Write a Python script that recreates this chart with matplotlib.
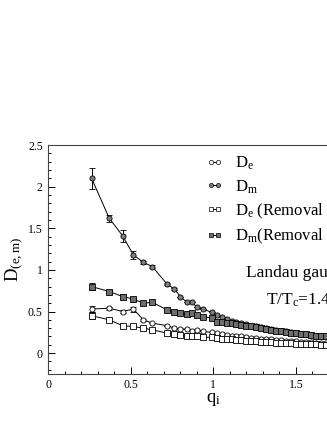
import matplotlib
matplotlib.use("Agg")
import matplotlib.pyplot as plt
from matplotlib.ticker import MultipleLocator
from matplotlib.lines import Line2D

plt.rcParams['font.family'] = ['Liberation Serif', 'DejaVu Serif']
plt.rcParams['mathtext.fontset'] = 'custom'
plt.rcParams['mathtext.rm'] = 'Liberation Serif'
plt.rcParams['mathtext.it'] = 'Liberation Serif:italic'
plt.rcParams['mathtext.default'] = 'rm'

# momenta (shared grid)
q = [0.262, 0.369, 0.450, 0.515, 0.576, 0.630, 0.719, 0.764, 0.800, 0.840, 0.873,
     0.900, 0.935, 0.990, 1.020, 1.050, 1.080, 1.110, 1.140, 1.170, 1.200, 1.230,
     1.260, 1.290, 1.320, 1.350, 1.380, 1.410, 1.440, 1.470, 1.500, 1.530, 1.560,
     1.590, 1.620, 1.650, 1.680, 1.710, 1.740, 1.770, 1.800]

D_m = [2.10, 1.62, 1.41, 1.18, 1.09, 1.04, 0.83, 0.77, 0.68, 0.61, 0.61,
       0.55, 0.53, 0.49, 0.46, 0.44, 0.41, 0.39, 0.37, 0.36, 0.35, 0.33,
       0.32, 0.31, 0.30, 0.29, 0.28, 0.27, 0.26, 0.25, 0.24, 0.235, 0.23,
       0.22, 0.21, 0.205, 0.20, 0.19, 0.185, 0.18, 0.175]
D_m_err = [0.13, 0.04, 0.07, 0.05, 0.02, 0.015, 0.01, 0.01, 0, 0, 0,
           0, 0, 0, 0, 0, 0, 0, 0, 0, 0, 0,
           0, 0, 0, 0, 0, 0, 0, 0, 0, 0, 0,
           0, 0, 0, 0, 0, 0, 0, 0]

D_m_rem = [0.80, 0.74, 0.68, 0.65, 0.60, 0.61, 0.52, 0.49, 0.48, 0.47, 0.48,
           0.46, 0.44, 0.42, 0.38, 0.37, 0.36, 0.36, 0.35, 0.34, 0.33, 0.32,
           0.31, 0.30, 0.29, 0.28, 0.27, 0.26, 0.25, 0.245, 0.24, 0.23, 0.225,
           0.22, 0.21, 0.205, 0.20, 0.19, 0.185, 0.18, 0.175]
D_m_rem_err = [0.04, 0.02, 0.03, 0.03, 0.015, 0.01, 0, 0, 0, 0, 0,
               0, 0, 0, 0, 0, 0, 0, 0, 0, 0, 0,
               0, 0, 0, 0, 0, 0, 0, 0, 0, 0, 0,
               0, 0, 0, 0, 0, 0, 0, 0]

D_e = [0.53, 0.54, 0.50, 0.53, 0.40, 0.36, 0.33, 0.30, 0.29, 0.29, 0.27,
       0.28, 0.26, 0.25, 0.24, 0.23, 0.22, 0.21, 0.205, 0.20, 0.19, 0.185,
       0.18, 0.175, 0.17, 0.165, 0.16, 0.155, 0.15, 0.145, 0.14, 0.137, 0.134,
       0.13, 0.127, 0.124, 0.12, 0.117, 0.115, 0.112, 0.11]
D_e_err = [0.04, 0.02, 0.02, 0.03, 0.01, 0, 0, 0, 0, 0, 0,
           0, 0, 0, 0, 0, 0, 0, 0, 0, 0, 0,
           0, 0, 0, 0, 0, 0, 0, 0, 0, 0, 0,
           0, 0, 0, 0, 0, 0, 0, 0]

D_e_rem = [0.45, 0.40, 0.33, 0.32, 0.30, 0.28, 0.24, 0.23, 0.22, 0.21, 0.20,
           0.20, 0.19, 0.19, 0.18, 0.175, 0.17, 0.165, 0.16, 0.155, 0.15, 0.145,
           0.14, 0.137, 0.134, 0.13, 0.127, 0.124, 0.12, 0.117, 0.115, 0.112, 0.11,
           0.107, 0.105, 0.103, 0.10, 0.098, 0.096, 0.094, 0.092]
D_e_rem_err = [0.04, 0.01, 0.01, 0, 0, 0, 0, 0, 0, 0, 0,
               0, 0, 0, 0, 0, 0, 0, 0, 0, 0, 0,
               0, 0, 0, 0, 0, 0, 0, 0, 0, 0, 0,
               0, 0, 0, 0, 0, 0, 0, 0]

labels = ["D$_{e}$", "D$_{m}$", "D$_{e}$ (Removal of vortices)", "D$_{m}$(Removal of vortices)"]

fig = plt.figure(figsize=(3.27, 4.23), dpi=100)
ax = fig.add_axes([0.148, 0.116, 1.009, 0.541])

ms = 3.7
common = dict(lw=0.7, color='black', capsize=2.2, elinewidth=0.7, capthick=0.7,
              markersize=ms, markeredgecolor='black', markeredgewidth=0.6)

styles = [('o', 'white'), ('o', '#808080'), ('s', 'white'), ('s', '#6e6e6e')]
series = [(D_e, D_e_err), (D_m, D_m_err), (D_e_rem, D_e_rem_err), (D_m_rem, D_m_rem_err)]

for (m, fc), (y, e) in zip(styles, series):
    ax.errorbar(q, y, yerr=e, marker=m, markerfacecolor=fc, **common)

handles = [Line2D([0], [0], marker=m, markerfacecolor=fc, markeredgecolor='black',
                  markeredgewidth=0.5, markersize=3.0, color='black', lw=0.7)
           for m, fc in styles]

ax.set_xlim(0, 2.0)
ax.set_ylim(-0.25, 2.5)
ax.xaxis.set_minor_locator(MultipleLocator(0.1))
ax.yaxis.set_minor_locator(MultipleLocator(0.1))
ax.tick_params(which='both', direction='in', top=False, right=False, labelsize=8.5, width=0.7)
ax.tick_params(which='major', length=5, pad=4)
ax.tick_params(which='minor', length=2.5)
ax.set_xticks([0, 0.5, 1, 1.5])
ax.set_xticklabels(['0', '0.5', '1', '1.5'])
ax.set_yticks([0, 0.5, 1, 1.5, 2, 2.5])
ax.set_yticklabels(['0', '0.5', '1', '1.5', '2', '2.5'])
for s in ax.spines.values():
    s.set_linewidth(0.8)
    s.set_color('#444444')

ax.set_xlabel("q$_{i}$", fontsize=13.5, labelpad=0)
ax.set_ylabel("D$_{(e,m)}$", fontsize=13.5, labelpad=2)

leg = fig.legend(handles, labels, loc='upper left', bbox_to_anchor=(0.630, 0.634),
                 bbox_transform=fig.transFigure, frameon=False, fontsize=12, numpoints=2,
                 handlelength=1.0, handletextpad=0.75, labelspacing=0.36, borderaxespad=0,
                 borderpad=0)

fig.text(0.752, 0.346, "Landau gauge", fontsize=12.5, va='baseline', ha='left')
fig.text(0.812, 0.281, "T/T$_{c}$=1.4", fontsize=12.5, va='baseline', ha='left')

fig.savefig("out.png", dpi=100)
